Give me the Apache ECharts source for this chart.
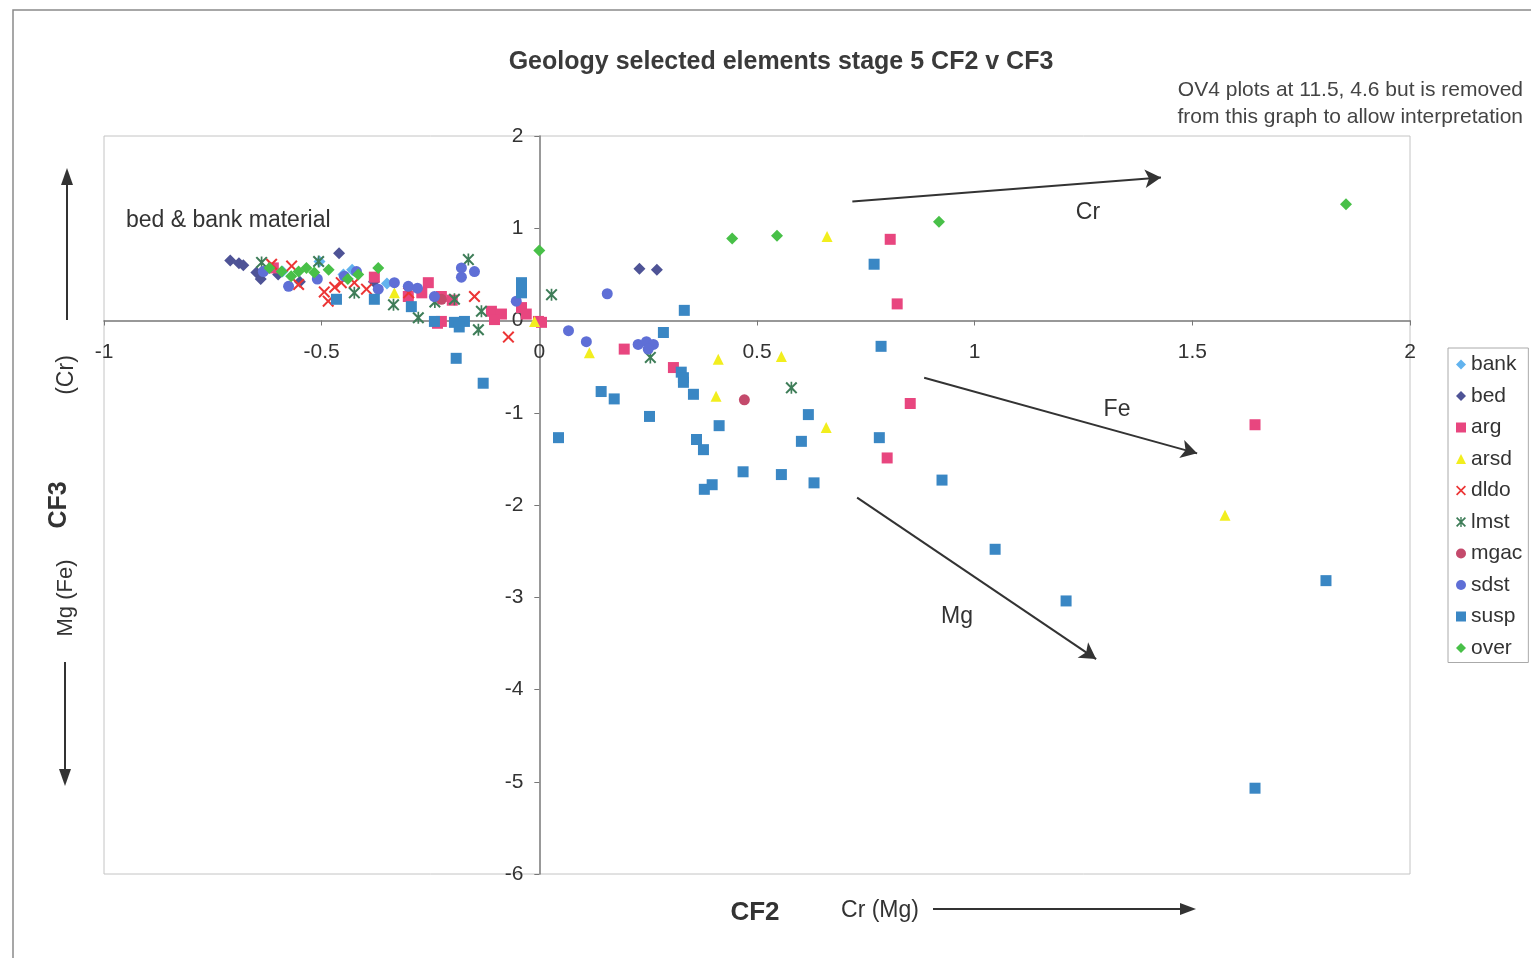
<!DOCTYPE html>
<html>
<head>
<meta charset="utf-8">
<script src="https://cdn.jsdelivr.net/npm/echarts@6/dist/echarts.min.js"></script>
<style>html,body{margin:0;padding:0;background:#fff}#c{width:1531px;height:958px}</style>
</head>
<body>
<div id="c"></div>
<script>
// ---- data (CF2, CF3) ----
const bank = [[-0.505,0.64],[-0.43,0.55],[-0.59,0.53],[-0.35,0.40],[-0.45,0.50]];
const bed = [[-0.71,0.65],[-0.69,0.62],[-0.68,0.60],[-0.65,0.52],[-0.64,0.45],[-0.46,0.73],[-0.55,0.42],[-0.38,0.42],[-0.60,0.50],[0.23,0.56],[0.27,0.55]];
const arg = [[0.806,0.88],[0.822,0.18],[0.195,-0.31],[0.308,-0.51],[0.852,-0.90],[0.799,-1.49],[1.644,-1.13],
  [-0.379,0.47],[-0.301,0.26],[-0.255,0.41],[-0.225,0.26],[-0.225,-0.01],[-0.234,-0.03],[-0.110,0.10],[-0.087,0.07],
  [-0.103,0.01],[-0.041,0.14],[-0.030,0.07],[-0.002,-0.01],[0.005,-0.02],[-0.611,0.57],[-0.27,0.30],[-0.20,0.22]];
const arsd = [[0.115,-0.35],[0.411,-0.42],[0.556,-0.39],[0.406,-0.82],[0.661,0.91],[0.659,-1.16],[1.575,-2.11],[-0.333,0.30],[-0.011,-0.01]];
const dldo = [[-0.569,0.59],[-0.553,0.39],[-0.494,0.31],[-0.485,0.21],[-0.455,0.41],[-0.425,0.41],[-0.149,0.26],[-0.071,-0.18],[-0.397,0.34],[-0.615,0.61],[-0.47,0.36],[-0.30,0.30]];
const lmst = [[-0.638,0.63],[-0.507,0.64],[-0.425,0.30],[-0.335,0.17],[-0.278,0.03],[-0.163,0.66],[-0.195,0.23],[-0.14,-0.10],[-0.133,0.10],[0.028,0.28],[0.255,-0.40],[0.579,-0.73],[-0.24,0.20]];
const mgac = [[0.471,-0.86],[-0.225,0.23]];
const sdst = [[-0.576,0.37],[-0.448,0.48],[-0.37,0.34],[-0.333,0.41],[-0.301,0.37],[-0.241,0.26],[-0.179,0.57],[-0.179,0.47],[-0.149,0.53],
  [-0.053,0.21],[0.156,0.29],[0.067,-0.11],[0.108,-0.23],[0.227,-0.26],[0.246,-0.23],[0.262,-0.26],[0.250,-0.31],[-0.634,0.53],[-0.42,0.53],[-0.28,0.35],[-0.51,0.45]];
const susp = [[-0.466,0.23],[-0.379,0.23],[-0.294,0.15],[-0.241,-0.01],[-0.195,-0.02],[-0.172,-0.01],[-0.184,-0.07],[-0.041,0.41],[-0.041,0.30],
  [-0.191,-0.41],[-0.129,-0.68],[0.333,0.11],[0.285,-0.13],[0.326,-0.56],[0.331,-0.62],[0.331,-0.67],[0.354,-0.80],[0.142,-0.77],[0.172,-0.85],
  [0.253,-1.04],[0.413,-1.14],[0.044,-1.27],[0.361,-1.29],[0.377,-1.40],[0.468,-1.64],[0.556,-1.67],[0.618,-1.02],[0.602,-1.31],[0.631,-1.76],
  [0.379,-1.83],[0.397,-1.78],[0.769,0.61],[0.785,-0.28],[0.781,-1.27],[0.925,-1.73],[1.047,-2.48],[1.210,-3.04],[1.807,-2.82],[1.644,-5.07]];
const over = [[0.0,0.76],[0.443,0.89],[0.546,0.92],[0.918,1.07],[1.853,1.26],
  [-0.62,0.57],[-0.592,0.53],[-0.553,0.53],[-0.517,0.52],[-0.484,0.55],[-0.37,0.57],[-0.416,0.50],[-0.535,0.57],[-0.57,0.48],[-0.44,0.45]];
// trend arrows (data coords)
const arrows = [
  [[0.719,1.29],[1.428,1.55]],
  [[0.884,-0.62],[1.511,-1.44]],
  [[0.730,-1.92],[1.279,-3.67]]
];
const xTicks = {min:-1, max:2, interval:0.5};
const yTicks = {min:-6, max:2, interval:1};

const FONT = '"Liberation Sans", Arial, sans-serif';
const X_PATH = 'path://M1.2,0 L5,3.8 L8.8,0 L10,1.2 L6.2,5 L10,8.8 L8.8,10 L5,6.2 L1.2,10 L0,8.8 L3.8,5 L0,1.2 Z';
const STAR_PATH = 'path://M1.2,0 L5,3.8 L8.8,0 L10,1.2 L6.2,5 L10,8.8 L8.8,10 L5,6.2 L1.2,10 L0,8.8 L3.8,5 L0,1.2 Z M4.3,0 L5.7,0 L5.7,10 L4.3,10 Z';

const defs = [
  {name:'bank', data:bank, symbol:'diamond', size:12, color:'#62B3EE'},
  {name:'bed', data:bed, symbol:'diamond', size:12, color:'#4E5396'},
  {name:'arg', data:arg, symbol:'rect', size:11, color:'#E8467F'},
  {name:'arsd', data:arsd, symbol:'triangle', size:11, color:'#F2EE1E'},
  {name:'dldo', data:dldo, symbol:X_PATH, size:12, color:'#EC3535'},
  {name:'lmst', data:lmst, symbol:STAR_PATH, size:12, color:'#3E7D58'},
  {name:'mgac', data:mgac, symbol:'circle', size:11, color:'#C44A6C'},
  {name:'sdst', data:sdst, symbol:'circle', size:11, color:'#5F6FD6'},
  {name:'susp', data:susp, symbol:'rect', size:11, color:'#3A87C4'},
  {name:'over', data:over, symbol:'diamond', size:12, color:'#48C048'}
];

const series = defs.map(d => ({
  type:'scatter', name:d.name, data:d.data, symbol:d.symbol, symbolSize:d.size,
  itemStyle:{color:d.color, opacity:1}, animation:false, z:3
}));
series.push({
  type:'scatter', name:'_arrows', data:[], silent:true, animation:false,
  markLine:{
    silent:true, animation:false, symbol:['none','arrow'], symbolSize:[14,16],
    lineStyle:{color:'#333', width:2, type:'solid'}, label:{show:false},
    emphasis:{disabled:true},
    data: arrows.map(a => [{coord:a[0]},{coord:a[1]}])
  }
});

const GL = 104, GR = 121, GT = 136, GB = 84, W = 1531, H = 958;
const plotW = W - GL - GR, plotH = H - GT - GB;
// offsets that place each axis on the other's zero value
const yOff = -plotW * (0 - xTicks.min) / (xTicks.max - xTicks.min);
const xOff = -plotH * (0 - yTicks.min) / (yTicks.max - yTicks.min);

const chart = echarts.init(document.getElementById('c'), null, {renderer:'canvas'});
const txt = (x,y,text,opt) => Object.assign({type:'text', x, y, style:Object.assign({text, fill:'#333', font:'22px '+FONT, textAlign:'left', textVerticalAlign:'middle'}, opt||{})});

chart.setOption({
  backgroundColor:'#fff',
  animation:false,
  grid:{left:GL, right:GR, top:GT, bottom:GB, show:true, borderColor:'#c4c4c4', borderWidth:1, containLabel:false},
  xAxis:{type:'value', min:xTicks.min, max:xTicks.max, interval:xTicks.interval, position:'bottom', offset:xOff,
    axisLine:{onZero:false, lineStyle:{color:'#777', width:1.5}},
    axisTick:{show:true, length:5, lineStyle:{color:'#777'}},
    axisLabel:{color:'#333', fontSize:21, fontFamily:FONT, margin:21},
    splitLine:{show:false}},
  yAxis:{type:'value', min:yTicks.min, max:yTicks.max, interval:yTicks.interval, position:'left', offset:yOff,
    axisLine:{onZero:false, lineStyle:{color:'#777', width:1.5}},
    axisTick:{show:true, length:5, lineStyle:{color:'#777'}},
    axisLabel:{color:'#333', fontSize:21, fontFamily:FONT, margin:16},
    splitLine:{show:false}},
  legend:{
    data:defs.map(d=>d.name), orient:'vertical', left:1448, top:348,
    itemWidth:10, itemHeight:10, itemGap:10.5, itemTextGap:5,
    padding:[6,6,4,8], borderColor:'#aaa', borderWidth:1, backgroundColor:'#fff',
    textStyle:{color:'#333', fontSize:21, fontFamily:FONT, lineHeight:21},
    selectedMode:false
  },
  series,
  graphic:[
    {type:'rect', shape:{x:13, y:10, width:1560, height:1000}, style:{fill:'none', stroke:'#8a8a8a', lineWidth:1.5}, silent:true, z:-10},
    txt(781,62,'Geology selected elements stage 5 CF2 v CF3',{font:'bold 25px '+FONT, textAlign:'center', fill:'#3a3a3a'}),
    txt(1523,90,'OV4 plots at 11.5, 4.6 but is removed',{textAlign:'right', fill:'#444', font:'21px '+FONT}),
    txt(1523,117,'from this graph to allow interpretation',{textAlign:'right', fill:'#444', font:'21px '+FONT}),
    txt(126,221,'bed & bank material',{font:'23px '+FONT}),
    txt(1088,213,'Cr',{textAlign:'center', font:'23px '+FONT}),
    txt(1117,410,'Fe',{textAlign:'center', font:'23px '+FONT}),
    txt(957,617,'Mg',{textAlign:'center', font:'23px '+FONT}),
    txt(755,913,'CF2',{font:'bold 26px '+FONT, textAlign:'center'}),
    txt(880,911,'Cr (Mg)',{textAlign:'center', font:'23px '+FONT}),
    // horizontal arrow bottom
    {type:'line', shape:{x1:933, y1:909, x2:1184, y2:909}, style:{stroke:'#333', lineWidth:2}},
    {type:'polygon', shape:{points:[[1196,909],[1180,903],[1180,915]]}, style:{fill:'#333'}},
    // vertical axis titles
    {type:'text', x:67, y:375, rotation:Math.PI/2, style:{text:'(Cr)', fill:'#333', font:'23px '+FONT, textAlign:'center', textVerticalAlign:'middle'}},
    {type:'text', x:59, y:505, rotation:Math.PI/2, style:{text:'CF3', fill:'#333', font:'bold 25px '+FONT, textAlign:'center', textVerticalAlign:'middle'}},
    {type:'text', x:66, y:598, rotation:Math.PI/2, style:{text:'Mg (Fe)', fill:'#333', font:'22px '+FONT, textAlign:'center', textVerticalAlign:'middle'}},
    // up arrow
    {type:'line', shape:{x1:67, y1:320, x2:67, y2:182}, style:{stroke:'#333', lineWidth:2}},
    {type:'polygon', shape:{points:[[67,168],[61,185],[73,185]]}, style:{fill:'#333'}},
    // down arrow
    {type:'line', shape:{x1:65, y1:662, x2:65, y2:772}, style:{stroke:'#333', lineWidth:2}},
    {type:'polygon', shape:{points:[[65,786],[59,769],[71,769]]}, style:{fill:'#333'}}
  ]
});
</script>
</body>
</html>
